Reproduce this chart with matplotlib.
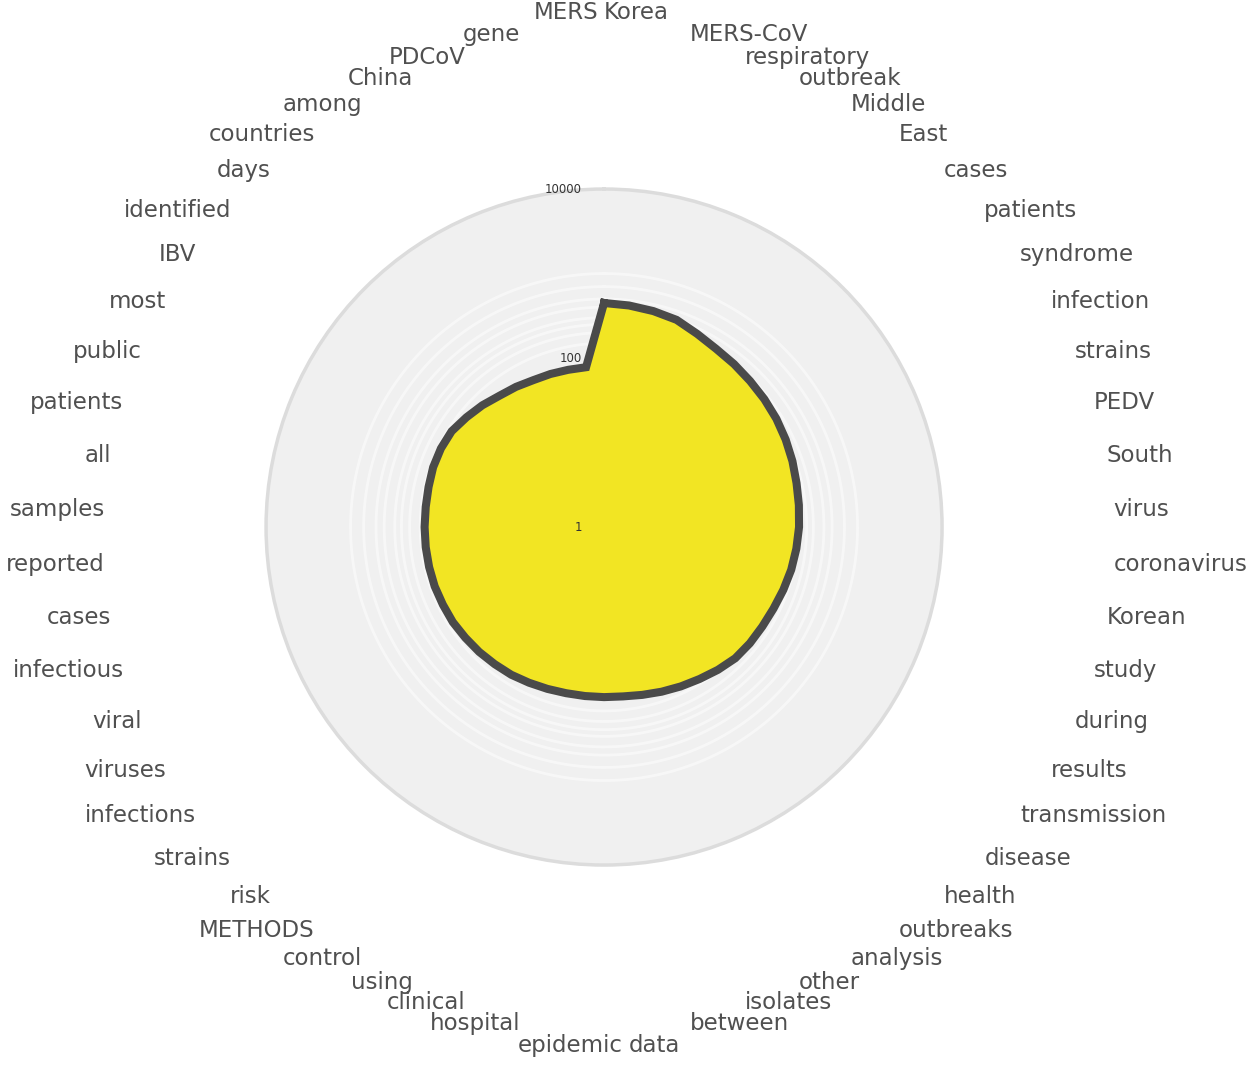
import numpy as np
import matplotlib
matplotlib.use("Agg")
import matplotlib.pyplot as plt
import matplotlib.transforms as mtransforms

# ---- data (clockwise from top) ----
words = ["Korea", "MERS-CoV", "respiratory", "outbreak", "Middle", "East", "cases",
         "patients", "syndrome", "infection", "strains", "PEDV", "South", "virus",
         "coronavirus", "Korean", "study", "during", "results", "transmission",
         "disease", "health", "outbreaks", "analysis", "other", "isolates", "between",
         "data", "epidemic", "hospital", "clinical", "using", "control", "METHODS",
         "risk", "strains", "infections", "viruses", "viral", "infectious", "cases",
         "reported", "samples", "all", "patients", "public", "most", "IBV",
         "identified", "days", "countries", "among", "China", "PDCoV", "gene", "MERS"]

counts = [448, 435, 418, 396, 345, 310, 293, 278, 267, 256, 243, 230, 217, 209,
          203, 195, 187, 177, 168, 163, 161, 157, 145, 133, 124, 116, 109, 104,
          103, 103, 104, 107, 111, 116, 119, 123, 126, 130, 131, 133, 133, 133,
          133, 133, 135, 139, 139, 135, 121, 109, 97, 91, 85, 83, 81, 80]

r_ticks = [1, 100, 10000]
r_tick_labels = ["1", "100", "10000"]

# ---- figure ----
W, H = 1255, 1069
fig = plt.figure(figsize=(W / 100, H / 100), dpi=100)
ax_px = 676.0
ax = fig.add_axes([0.212, 0.1908, ax_px / W, ax_px / H], projection="polar")
ax.set_theta_zero_location("N")
ax.set_theta_direction(-1)
ax.set_rscale("log")
ax.set_rlim(1, 10000)
ax.set_facecolor("#f0f0f0")
ax.spines["polar"].set_color("#dcdcdc")
ax.spines["polar"].set_linewidth(2.5)

n = len(words)
step = 2 * np.pi / n
theta = np.arange(n) * step

ax.set_xticks([])
ax.set_yticks(r_ticks)
ax.set_yticklabels([])
ax.yaxis.grid(False)

# faint white rings around the data area
ring_vals = [60, 80, 150, 200, 250, 300, 400, 500, 700, 1000]
tt = np.linspace(0, 2 * np.pi, 400)
for rv in ring_vals:
    ax.plot(tt, np.full_like(tt, rv), color="white", lw=2.0, alpha=0.5, zorder=1)

# data polygon
th_closed = np.append(theta, theta[0])
v_closed = np.append(counts, counts[0])
ax.fill(th_closed, v_closed, color="#F2E523", zorder=3)
ax.plot(th_closed, v_closed, color="#4a4a4a", lw=5.8, solid_joinstyle="miter", zorder=4)

# radial tick labels (left of the vertical axis)
off = mtransforms.offset_copy(ax.transData, fig=fig, x=-22, y=0, units="dots")
for rv, lab in zip(r_ticks, r_tick_labels):
    ax.text(0, rv, lab, transform=off, ha="right", va="center",
            fontsize=8.5, color="#333333", zorder=6)

# word labels on an ellipse around the chart (axes-fraction coordinates)
for i, w in enumerate(words):
    a = (i + 0.5) * step
    s, c = np.sin(a), np.cos(a)
    spike = 30 * np.exp(-(1 - abs(c)) / 0.015)
    if c >= 0:
        b = 484 + 14 * c * c + spike
    else:
        b = 482 + spike
    if abs(s) < 0.1:
        shift = 0 if c > 0 else 25
        if s > 0:
            xp, ha = 0 + shift, "left"
        else:
            xp, ha = -6 + shift, "right"
    elif s > 0:
        xp, ha = 510 * s, "left"
    else:
        xp, ha = 500 * s, "right"
    xa = 0.5 + xp / ax_px
    ya = 0.5 + (b * c - 10) / ax_px
    ax.text(xa, ya, w, transform=ax.transAxes, ha=ha, va="center",
            fontsize=16.5, color="#505050", family="DejaVu Sans", clip_on=False)

fig.savefig("out.png", dpi=100, facecolor="white")
